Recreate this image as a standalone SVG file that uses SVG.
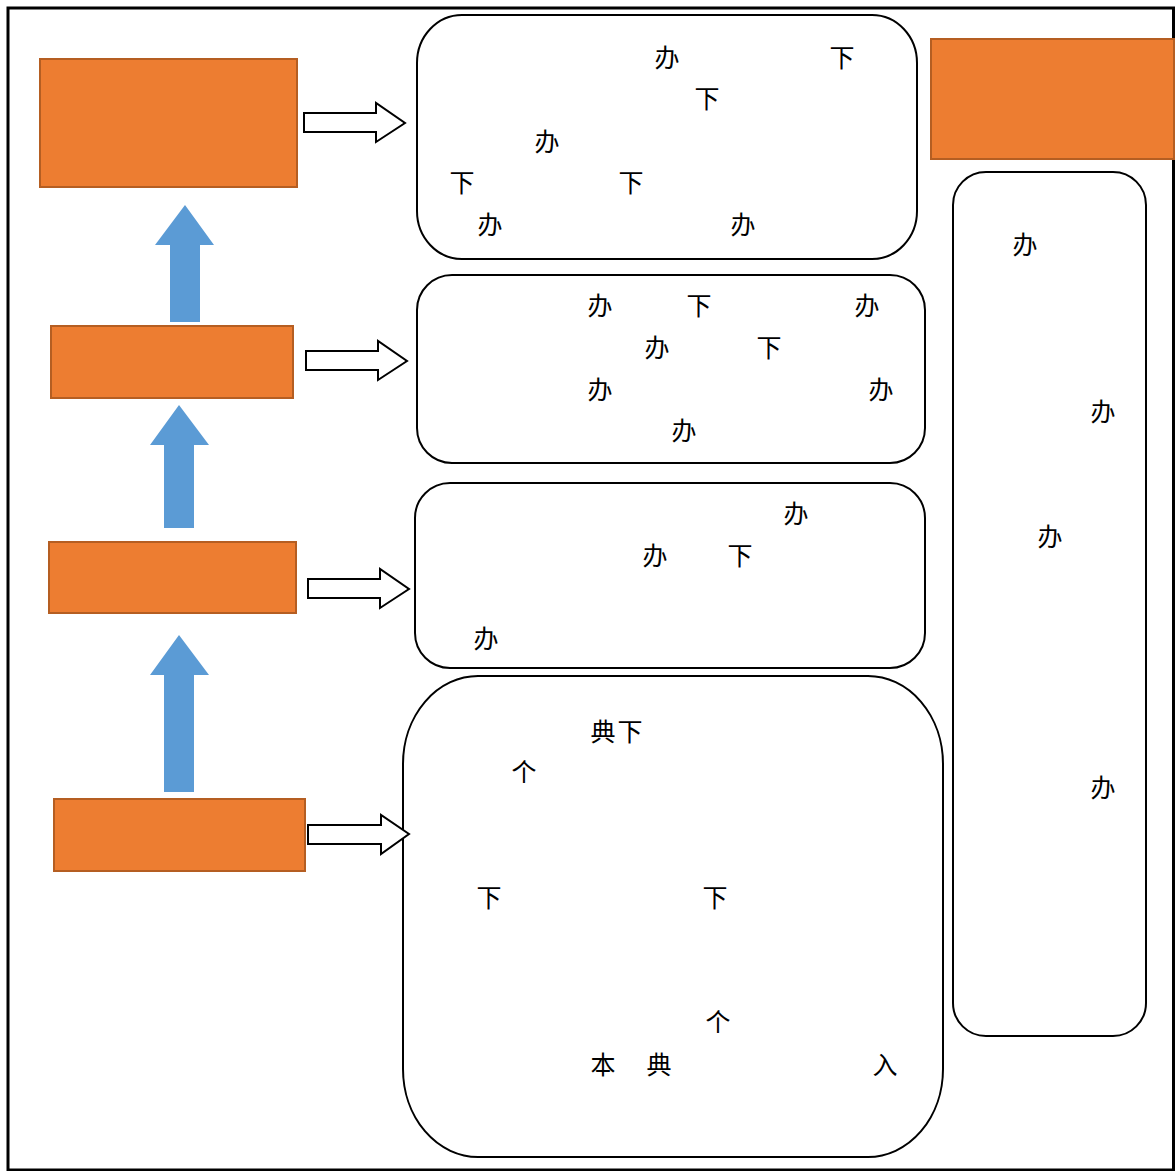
<svg xmlns="http://www.w3.org/2000/svg" width="1176" height="1171" viewBox="0 0 1176 1171">
<style>
.frame{fill:none;stroke:#000;stroke-width:3}
.org{fill:#ED7D31;stroke:#B55E22;stroke-width:2}
.rr{fill:#fff;stroke:#000;stroke-width:2}
.blue{fill:#5B9BD5;stroke:none}
.wa{fill:#fff;stroke:#000;stroke-width:2;stroke-linejoin:miter}
.t{font-family:"Liberation Serif","Noto Sans CJK SC",serif;font-size:25px;fill:#000;text-anchor:middle}
</style>
<rect x="0" y="0" width="1176" height="1171" fill="#fff"/>
<rect class="frame" x="8" y="8" width="1165.5" height="1162"/>
<g id="box-top"><rect class="org" x="40" y="59" width="257" height="128"/></g>
<g id="box-2"><rect class="org" x="51" y="326" width="242" height="72"/></g>
<g id="box-3"><rect class="org" x="49" y="542" width="247" height="71"/></g>
<g id="box-4"><rect class="org" x="54" y="799" width="251" height="72"/></g>
<g id="box-right-top"><rect class="org" x="931" y="39" width="243" height="120"/></g>
<g id="panel-1">
<rect class="rr" x="417" y="15" width="500" height="244" rx="45" ry="48"/>
<text class="t" x="667" y="67">办</text><text class="t" x="842" y="67">下</text>
<text class="t" x="707" y="108">下</text>
<text class="t" x="547" y="151">办</text>
<text class="t" x="462" y="192">下</text><text class="t" x="631" y="192">下</text>
<text class="t" x="490" y="234">办</text><text class="t" x="743" y="234">办</text>
</g>
<g id="panel-2">
<rect class="rr" x="417" y="275" width="508" height="188" rx="35" ry="35"/>
<text class="t" x="600" y="315">办</text><text class="t" x="699" y="315">下</text><text class="t" x="867" y="315">办</text>
<text class="t" x="657" y="357">办</text><text class="t" x="769" y="357">下</text>
<text class="t" x="600" y="399">办</text><text class="t" x="881" y="399">办</text>
<text class="t" x="684" y="440">办</text>
</g>
<g id="panel-3">
<rect class="rr" x="415" y="483" width="510" height="185" rx="35" ry="35"/>
<text class="t" x="796" y="523">办</text>
<text class="t" x="655" y="565">办</text><text class="t" x="740" y="565">下</text>
<text class="t" x="486" y="648">办</text>
</g>
<g id="panel-4">
<rect class="rr" x="403" y="676" width="540" height="481" rx="75" ry="88"/>
<text class="t" x="603" y="741">典</text><text class="t" x="630" y="741">下</text>
<text class="t" x="524" y="781">个</text>
<text class="t" x="489" y="907">下</text><text class="t" x="715" y="907">下</text>
<text class="t" x="718" y="1031">个</text>
<text class="t" x="603" y="1074">本</text><text class="t" x="659" y="1074">典</text>
<text class="t" x="885" y="1074">入</text>
</g>
<g id="panel-right">
<rect class="rr" x="953" y="172" width="193" height="864" rx="33" ry="33"/>
<text class="t" x="1025" y="254">办</text>
<text class="t" x="1103" y="421">办</text>
<text class="t" x="1050" y="546">办</text>
<text class="t" x="1103" y="797">办</text>
</g>
<g id="connectors">
<polygon class="blue" points="185,205 214,245 200,245 200,322 170,322 170,245 155,245"/>
<polygon class="blue" points="179,405 209,445 194,445 194,528 164,528 164,445 150,445"/>
<polygon class="blue" points="179,635 209,675 194,675 194,792 164,792 164,675 150,675"/>
<polygon class="wa" points="304,113 376,113 376,103 405,123 376,142 376,132 304,132"/>
<polygon class="wa" points="306,351 378,351 378,341 407,361 378,380 378,370 306,370"/>
<polygon class="wa" points="308,579 380,579 380,569 409,589 380,608 380,598 308,598"/>
<polygon class="wa" points="308,825 381,825 381,815 409,834 381,854 381,844 308,844"/>
</g>
</svg>
